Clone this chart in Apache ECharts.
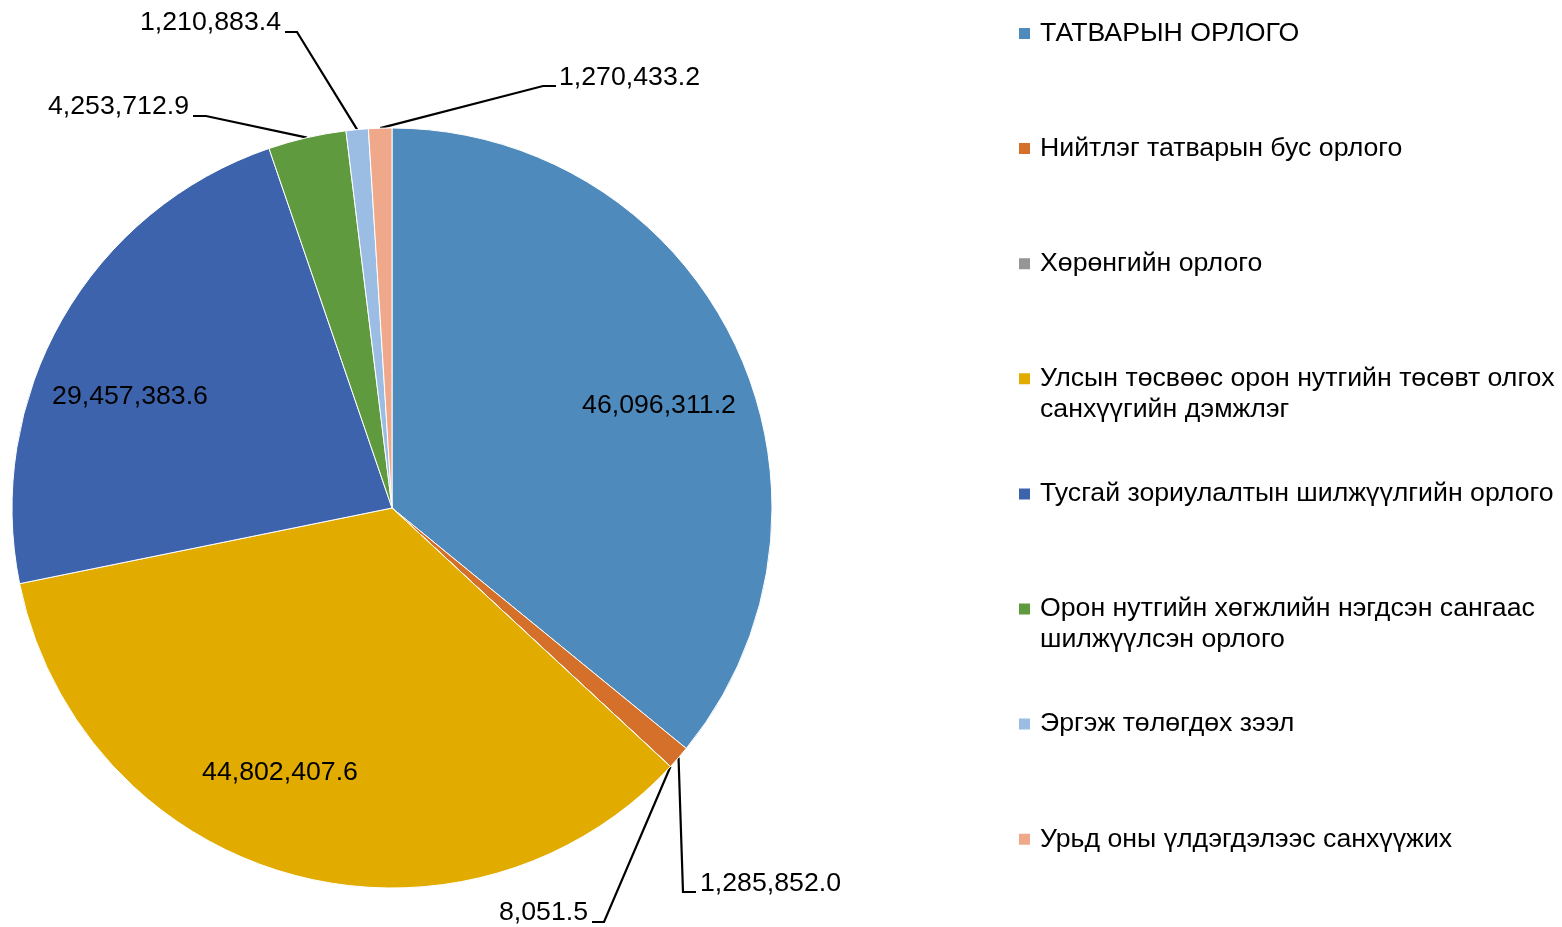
<!DOCTYPE html>
<html>
<head>
<meta charset="utf-8">
<script src="https://cdn.jsdelivr.net/npm/echarts@6/dist/echarts.min.js"></script>
<style>
html,body{margin:0;padding:0;background:#fff;}
#chart{width:1562px;height:927px;}
</style>
</head>
<body>
<div id="chart"></div>
<script>
// ---- data ----
const categories = [
  'ТАТВАРЫН ОРЛОГО',
  'Нийтлэг татварын бус орлого',
  'Хөрөнгийн орлого',
  'Улсын төсвөөс орон нутгийн төсөвт олгох санхүүгийн дэмжлэг',
  'Тусгай зориулалтын шилжүүлгийн орлого',
  'Орон нутгийн хөгжлийн нэгдсэн сангаас шилжүүлсэн орлого',
  'Эргэж төлөгдөх зээл',
  'Урьд оны үлдэгдэлээс санхүүжих'
];
const values = [46096311.2, 1285852.0, 8051.5, 44802407.6, 29457383.6, 4253712.9, 1210883.4, 1270433.2];
const legendLabels = [
  'ТАТВАРЫН ОРЛОГО',
  'Нийтлэг татварын бус орлого',
  'Хөрөнгийн орлого',
  'Улсын төсвөөс орон нутгийн төсөвт олгох\nсанхүүгийн дэмжлэг',
  'Тусгай зориулалтын шилжүүлгийн орлого',
  'Орон нутгийн хөгжлийн нэгдсэн сангаас\nшилжүүлсэн орлого',
  'Эргэж төлөгдөх зээл',
  'Урьд оны үлдэгдэлээс санхүүжих'
];
const colors = ['#4F8ABD', '#D4702A', '#969696', '#E2AB00', '#3D63AD', '#5F9A3E', '#9CBDE3', '#F0A88B'];

// ---- label placement (layout only) ----
const labelPlacement = [
  {x: 659, y: 406, align: 'center', line: null},
  {x: 700, y: 884, align: 'left', line: [[683, 892], [696, 892]]},
  {x: 588, y: 913, align: 'right', line: [[604, 922], [592, 922]]},
  {x: 280, y: 773, align: 'center', line: null},
  {x: 130, y: 397, align: 'center', line: null},
  {x: 189, y: 107, align: 'right', line: [[206, 116], [193, 116]]},
  {x: 281, y: 23, align: 'right', line: [[297, 32], [285, 32]]},
  {x: 559, y: 78, align: 'left', line: [[543, 86], [556, 86]]}
];
const inner = [true, false, false, true, true, false, false, false];

const FONT = '"Liberation Sans", Arial, sans-serif';
const FS = 26.7;
const fmt = v => v.toLocaleString('en-US', {minimumFractionDigits: 1, maximumFractionDigits: 1});

const legendCenters = categories.map((_, i) => 33.5 + 115.1 * i);
const legends = categories.map((name, i) => {
  const twoLine = legendLabels[i].indexOf('\n') >= 0;
  return {
    data: [name],
    orient: 'vertical',
    left: 1017,
    top: twoLine ? legendCenters[i] - 46.5 : legendCenters[i] - 15.5,
    padding: 0,
    itemGap: 0,
    icon: 'rect',
    itemWidth: 13,
    itemHeight: 13,
    selectedMode: false,
    formatter: () => (twoLine ? '\n' : '') + legendLabels[i],
    textStyle: {
      fontFamily: FONT,
      fontSize: FS,
      lineHeight: 31,
      color: '#000',
      padding: [0, 0, 0, 4]
    }
  };
});

const chart = echarts.init(document.getElementById('chart'), null, {renderer: 'canvas'});
chart.setOption({
  backgroundColor: '#fff',
  animation: false,
  legend: legends,
  series: [{
    type: 'pie',
    center: [392, 508],
    radius: 380,
    startAngle: 90,
    clockwise: true,
    avoidLabelOverlap: false,
    itemStyle: {borderColor: '#fff', borderWidth: 1},
    label: {
      show: true,
      fontFamily: FONT,
      fontSize: FS,
      color: '#000',
      formatter: p => fmt(p.value)
    },
    labelLine: {
      show: true,
      length: 20,
      length2: 10,
      lineStyle: {color: '#000', width: 2.2}
    },
    labelLayout: function (params) {
      const p = labelPlacement[params.dataIndex];
      const res = {x: p.x, y: p.y, align: p.align, verticalAlign: 'middle'};
      if (p.line && params.labelLinePoints && params.labelLinePoints.length) {
        res.labelLinePoints = [params.labelLinePoints[0], p.line[0], p.line[1]];
      }
      return res;
    },
    emphasis: {disabled: true},
    data: categories.map((name, i) => ({
      name: name,
      value: values[i],
      itemStyle: {color: colors[i]},
      label: inner[i] ? {position: 'inside'} : {position: 'outside'},
      labelLine: {show: !inner[i]}
    }))
  }]
});
</script>
</body>
</html>
